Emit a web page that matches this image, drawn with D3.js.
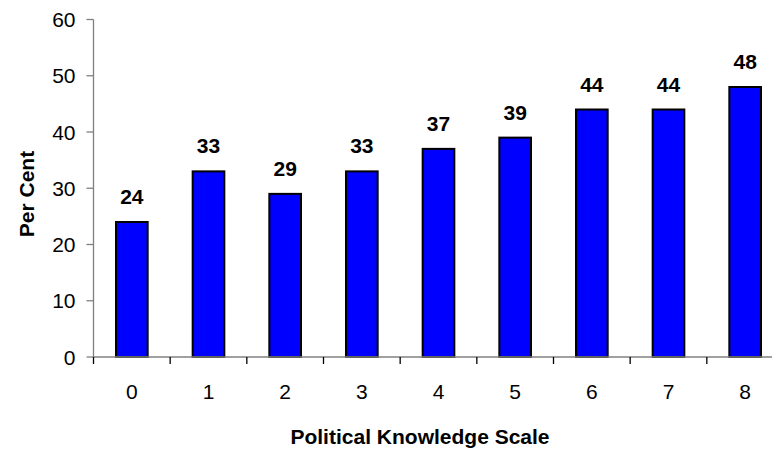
<!DOCTYPE html>
<html>
<head>
<meta charset="utf-8">
<script src="https://cdn.jsdelivr.net/npm/d3@7/dist/d3.min.js"></script>
<style>
html,body{margin:0;padding:0;background:#fff;}
svg{display:block;font-family:Arial,"Liberation Sans",sans-serif;}
</style>
</head>
<body>
<svg id="chart" width="772" height="451"></svg>
<script>
const categories = ["0","1","2","3","4","5","6","7","8"];
const values = [24, 33, 29, 33, 37, 39, 44, 44, 48];
const yTicks = [0, 10, 20, 30, 40, 50, 60];
const xTitle = "Political Knowledge Scale";
const yTitle = "Per Cent";

(function () {
const svg = d3.select("#chart");
const pLeft = 93.5, pRight = 783.5, pTop = 19.5, pBottom = 357;

const x = d3.scaleBand().domain(categories).range([pLeft, pRight])
  .paddingInner(0.587).paddingOuter(0.2935);
const y = d3.scaleLinear().domain([0, 60]).range([pBottom, pTop]);

// Y axis
svg.append("line").attr("x1", pLeft).attr("x2", pLeft).attr("y1", pTop).attr("y2", pBottom)
  .attr("stroke", "#808080").attr("stroke-width", 1.3);
svg.selectAll(".ytick").data(yTicks).enter().append("line")
  .attr("x1", pLeft - 7).attr("x2", pLeft).attr("y1", d => y(d)).attr("y2", d => y(d))
  .attr("stroke", "#808080").attr("stroke-width", 1.3);
svg.selectAll(".ylab").data(yTicks).enter().append("text")
  .attr("x", pLeft - 18).attr("y", d => y(d)).attr("dy", "0.36em")
  .attr("text-anchor", "end").attr("font-size", 21).attr("fill", "#000").text(d => d);

// Bars
svg.selectAll(".bar").data(values).enter().append("rect")
  .attr("x", (d, i) => x(categories[i])).attr("width", x.bandwidth())
  .attr("y", d => y(d)).attr("height", d => y(0) - y(d))
  .attr("fill", "#0000FF").attr("stroke", "#000").attr("stroke-width", 2);

// X axis
svg.append("line").attr("x1", pLeft).attr("x2", pRight).attr("y1", pBottom).attr("y2", pBottom)
  .attr("stroke", "#808080").attr("stroke-width", 1.3);
const bounds = d3.range(categories.length + 1).map(i => pLeft + i * x.step());
svg.selectAll(".xtick").data(bounds).enter().append("line")
  .attr("x1", d => d).attr("x2", d => d).attr("y1", pBottom).attr("y2", pBottom + 7)
  .attr("stroke", "#000").attr("stroke-width", 1.3);
svg.selectAll(".xlab").data(categories).enter().append("text")
  .attr("x", d => x(d) + x.bandwidth() / 2).attr("y", 399)
  .attr("text-anchor", "middle").attr("font-size", 21).text(d => d);

// Value labels
svg.selectAll(".val").data(values).enter().append("text")
  .attr("x", (d, i) => x(categories[i]) + x.bandwidth() / 2).attr("y", d => y(d) - 18)
  .attr("text-anchor", "middle").attr("font-size", 21).attr("font-weight", "bold").text(d => d);

// Titles
svg.append("text").attr("x", 420).attr("y", 444).attr("text-anchor", "middle")
  .attr("font-size", 21).attr("font-weight", "bold").text(xTitle);
svg.append("text").attr("transform", "translate(34,194) rotate(-90)").attr("text-anchor", "middle")
  .attr("font-size", 21).attr("font-weight", "bold").text(yTitle);
})();
</script>
</body>
</html>
